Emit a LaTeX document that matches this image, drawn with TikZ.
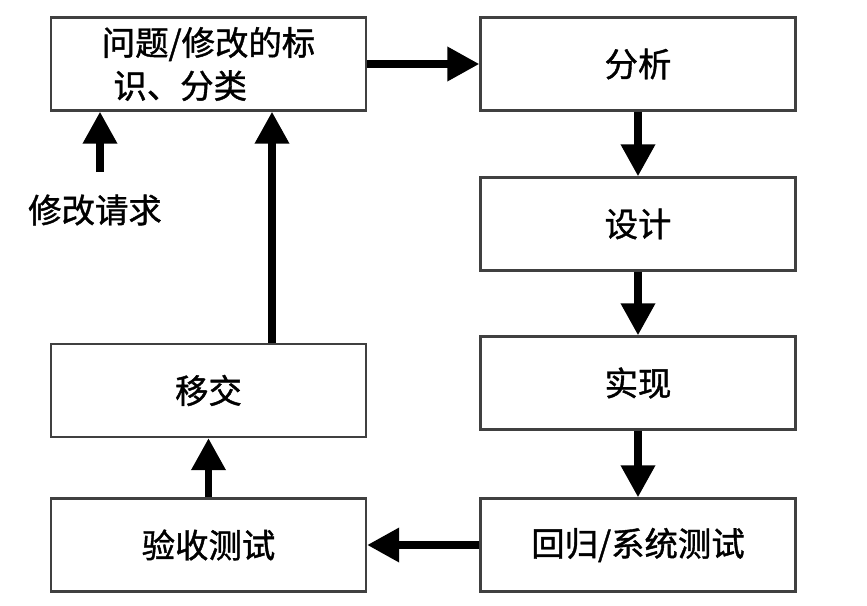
\documentclass[tikz,border=0pt]{standalone}
\usepackage{fontspec}
\setmainfont{Noto Sans CJK SC}[FakeBold=1.2,UprightFeatures={FakeBold=1.2}]
\usetikzlibrary{arrows.meta}

\begin{document}
\begin{tikzpicture}[x=1cm,y=1cm,font=\fontsize{19}{24.5}\selectfont,
  box/.style={draw=black!75,line width=1.4pt,minimum width=6.3cm,minimum height=1.86cm,inner sep=0pt},
  arr/.style={line width=4pt,-{Triangle[length=.64cm,width=.66cm]}}]
\useasboundingbox (0,0) rectangle (17.34,-12.12);
% left column
\node[box,align=left] (ident) at (4.17,-1.28) {问题/修改的标\\\hspace{.35em}识、分类};
\node[box] (deliver) at (4.17,-7.81) {移交};
\node[box] (accept) at (4.17,-10.9) {验收测试};
\node (req) at (1.9,-4.2) {修改请求};
\coordinate (reqtop) at (2.0,-3.44);
% right column
\node[box] (analyse) at (12.76,-1.28) {分析};
\node[box] (design) at (12.76,-4.48) {设计};
\node[box] (impl) at (12.76,-7.66) {实现};
\node[box] (regr) at (12.76,-10.9) {回归/系统测试};
% flow
\draw[arr] (ident.east)--(analyse.west);
\draw[arr] (analyse.south)--(design.north);
\draw[arr] (design.south)--(impl.north);
\draw[arr] (impl.south)--(regr.north);
\draw[arr] (regr.west)--(accept.east);
\draw[arr] (accept.north)--(deliver.south);
\draw[arr] ([xshift=1.27cm]deliver.north)--([xshift=1.27cm]deliver.north |- ident.south);
\draw[arr] (reqtop)--(reqtop |- ident.south);
\end{tikzpicture}
\end{document}
